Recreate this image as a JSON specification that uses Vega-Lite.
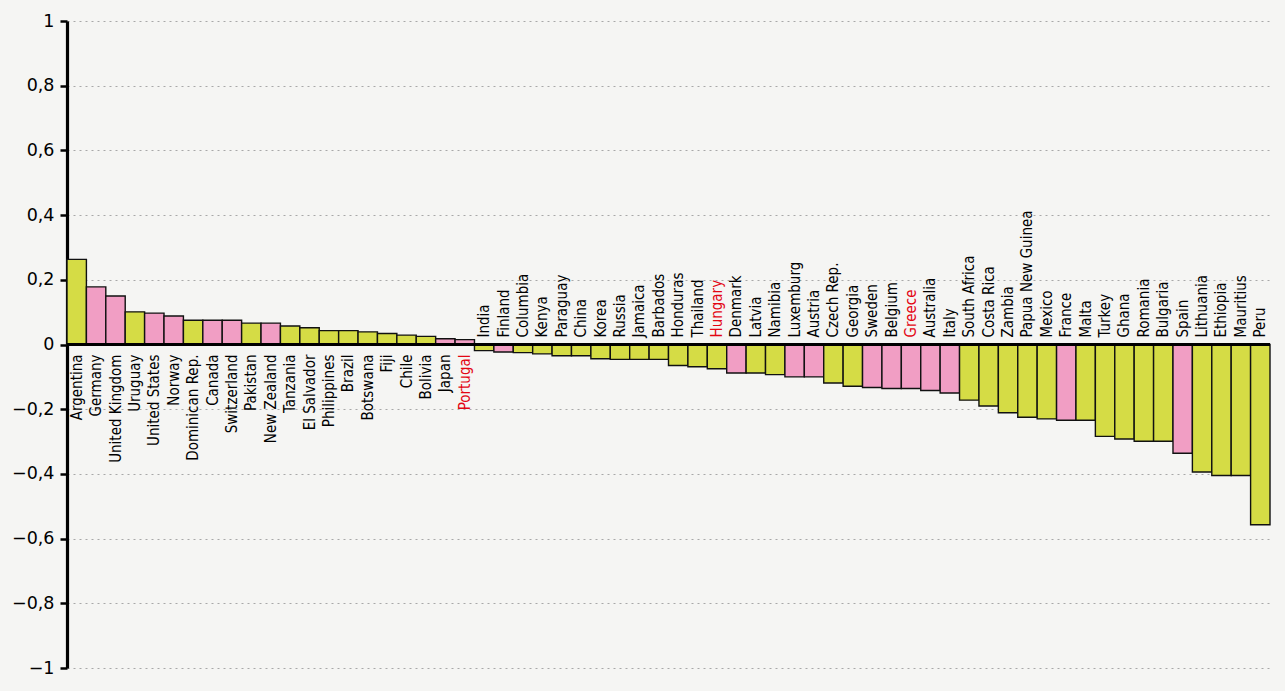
{
  "$schema": "https://vega.github.io/schema/vega-lite/v6.json",
  "width": 1203,
  "height": 647,
  "autosize": {"type": "none"},
  "padding": {"left": 67, "top": 21, "right": 15, "bottom": 23},
  "background": "#f5f5f3",
  "config": {
    "view": {"stroke": null},
    "locale": {"number": {"decimal": ",", "thousands": ".", "grouping": [3], "currency": ["", " €"], "minus": "−"}}
  },
  "data": {"values": [
    {"country": "Argentina", "value": 0.263, "group": "B"},
    {"country": "Germany", "value": 0.178, "group": "A"},
    {"country": "United Kingdom", "value": 0.150, "group": "A"},
    {"country": "Uruguay", "value": 0.101, "group": "B"},
    {"country": "United States", "value": 0.097, "group": "A"},
    {"country": "Norway", "value": 0.088, "group": "A"},
    {"country": "Dominican Rep.", "value": 0.075, "group": "B"},
    {"country": "Canada", "value": 0.075, "group": "A"},
    {"country": "Switzerland", "value": 0.075, "group": "A"},
    {"country": "Pakistan", "value": 0.066, "group": "B"},
    {"country": "New Zealand", "value": 0.066, "group": "A"},
    {"country": "Tanzania", "value": 0.057, "group": "B"},
    {"country": "El Salvador", "value": 0.052, "group": "B"},
    {"country": "Philippines", "value": 0.043, "group": "B"},
    {"country": "Brazil", "value": 0.043, "group": "B"},
    {"country": "Botswana", "value": 0.039, "group": "B"},
    {"country": "Fiji", "value": 0.034, "group": "B"},
    {"country": "Chile", "value": 0.029, "group": "B"},
    {"country": "Bolivia", "value": 0.025, "group": "B"},
    {"country": "Japan", "value": 0.018, "group": "A"},
    {"country": "Portugal", "value": 0.015, "group": "A"},
    {"country": "India", "value": -0.019, "group": "B"},
    {"country": "Finland", "value": -0.023, "group": "A"},
    {"country": "Columbia", "value": -0.025, "group": "B"},
    {"country": "Kenya", "value": -0.029, "group": "B"},
    {"country": "Paraguay", "value": -0.035, "group": "B"},
    {"country": "China", "value": -0.035, "group": "B"},
    {"country": "Korea", "value": -0.044, "group": "B"},
    {"country": "Russia", "value": -0.046, "group": "B"},
    {"country": "Jamaica", "value": -0.046, "group": "B"},
    {"country": "Barbados", "value": -0.046, "group": "B"},
    {"country": "Honduras", "value": -0.065, "group": "B"},
    {"country": "Thailand", "value": -0.069, "group": "B"},
    {"country": "Hungary", "value": -0.075, "group": "B"},
    {"country": "Denmark", "value": -0.088, "group": "A"},
    {"country": "Latvia", "value": -0.088, "group": "B"},
    {"country": "Namibia", "value": -0.093, "group": "B"},
    {"country": "Luxemburg", "value": -0.100, "group": "A"},
    {"country": "Austria", "value": -0.100, "group": "A"},
    {"country": "Czech Rep.", "value": -0.119, "group": "B"},
    {"country": "Georgia", "value": -0.129, "group": "B"},
    {"country": "Sweden", "value": -0.133, "group": "A"},
    {"country": "Belgium", "value": -0.136, "group": "A"},
    {"country": "Greece", "value": -0.136, "group": "A"},
    {"country": "Australia", "value": -0.142, "group": "A"},
    {"country": "Italy", "value": -0.150, "group": "A"},
    {"country": "South Africa", "value": -0.172, "group": "B"},
    {"country": "Costa Rica", "value": -0.190, "group": "B"},
    {"country": "Zambia", "value": -0.211, "group": "B"},
    {"country": "Papua New Guinea", "value": -0.225, "group": "B"},
    {"country": "Mexico", "value": -0.230, "group": "B"},
    {"country": "France", "value": -0.234, "group": "A"},
    {"country": "Malta", "value": -0.234, "group": "B"},
    {"country": "Turkey", "value": -0.284, "group": "B"},
    {"country": "Ghana", "value": -0.292, "group": "B"},
    {"country": "Romania", "value": -0.299, "group": "B"},
    {"country": "Bulgaria", "value": -0.299, "group": "B"},
    {"country": "Spain", "value": -0.336, "group": "A"},
    {"country": "Lithuania", "value": -0.394, "group": "B"},
    {"country": "Ethiopia", "value": -0.405, "group": "B"},
    {"country": "Mauritius", "value": -0.405, "group": "B"},
    {"country": "Peru", "value": -0.557, "group": "B"}
  ]},
  "encoding": {
    "x": {"field": "country", "type": "nominal", "sort": null,
          "scale": {"paddingInner": 0, "paddingOuter": 0}, "axis": null}
  },
  "layer": [
    {
      "mark": {"type": "bar", "stroke": "#111111", "strokeWidth": 1.4},
      "encoding": {
        "y": {"field": "value", "type": "quantitative",
              "scale": {"domain": [-1, 1], "nice": false, "zero": false},
              "axis": {"values": [-1, -0.8, -0.6, -0.4, -0.2, 0, 0.2, 0.4, 0.6, 0.8, 1],
                       "format": "~r", "title": null,
                       "labelFont": "DejaVu Sans", "labelFontSize": 17.5, "labelColor": "#000000",
                       "labelPadding": 6,
                       "domainColor": "#000000", "domainWidth": 3.2,
                       "tickColor": "#000000", "tickWidth": 2.5, "tickSize": 7,
                       "grid": true, "gridColor": "#a8a8a8", "gridDash": [2, 4], "gridWidth": 1}},
        "fill": {"field": "group", "type": "nominal", "legend": null,
                 "scale": {"domain": ["A", "B"], "range": ["#f19ec4", "#d5dc45"]}}
      }
    },
    {
      "mark": {"type": "rule", "color": "#000000", "strokeWidth": 3},
      "encoding": {"y": {"datum": 0}, "x": null}
    },
    {
      "transform": [{"filter": "datum.value >= 0"}],
      "mark": {"type": "text", "angle": 270, "align": "right", "baseline": "middle", "dx": -10,
               "font": "DejaVu Sans Condensed", "fontSize": 15},
      "encoding": {
        "y": {"datum": 0},
        "text": {"field": "country"},
        "color": {"condition": {"test": "indexof(['Portugal','Hungary','Greece'], datum.country) >= 0", "value": "#e30613"}, "value": "#000000"}
      }
    },
    {
      "transform": [{"filter": "datum.value < 0"}],
      "mark": {"type": "text", "angle": 270, "align": "left", "baseline": "middle", "dx": 7,
               "font": "DejaVu Sans Condensed", "fontSize": 15},
      "encoding": {
        "y": {"datum": 0},
        "text": {"field": "country"},
        "color": {"condition": {"test": "indexof(['Portugal','Hungary','Greece'], datum.country) >= 0", "value": "#e30613"}, "value": "#000000"}
      }
    }
  ]
}
